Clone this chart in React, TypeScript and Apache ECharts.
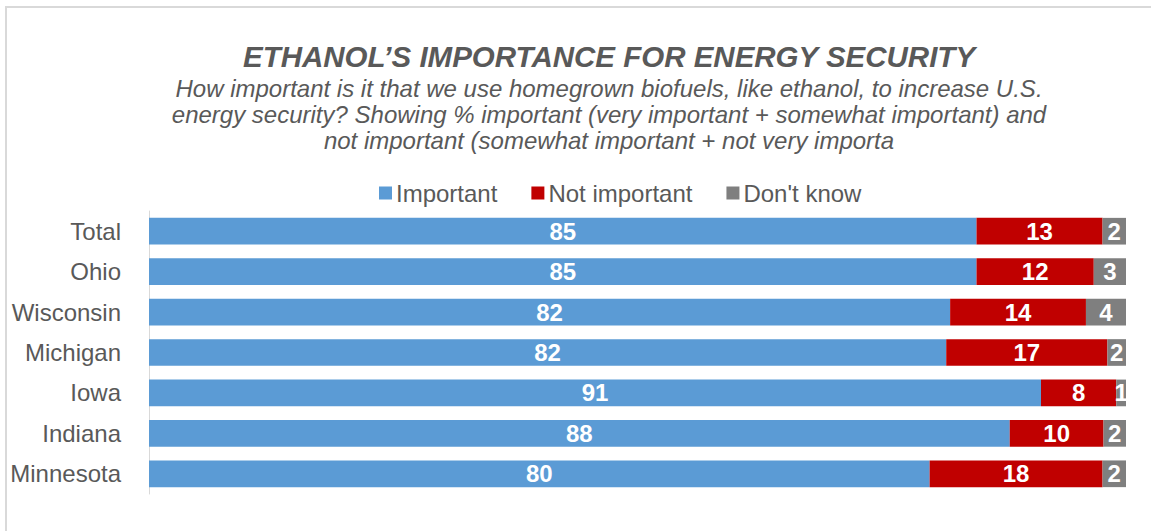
import React, { useEffect, useRef } from "react";
import * as echarts from "echarts";

const titleText = "ETHANOL\u2019S IMPORTANCE FOR ENERGY SECURITY";
const subtitleLines = [
  "How important is it that we use homegrown biofuels, like ethanol, to increase U.S.",
  "energy security? Showing % important (very important + somewhat important) and",
  "not important (somewhat important + not very importa",
];
const categories = ["Total", "Ohio", "Wisconsin", "Michigan", "Iowa", "Indiana", "Minnesota"];
const seriesNames = ["Important", "Not important", "Don't know"];
const important = [84.7, 84.7, 82.0, 81.6, 91.3, 88.1, 79.9];
const notImportant = [12.9, 12.0, 13.9, 16.5, 7.7, 9.6, 17.7];
const dontKnow = [2.4, 3.3, 4.1, 1.9, 1.0, 2.3, 2.4];
const colors = ["#5B9BD5", "#C00000", "#7F7F7F"];

const FONT = "Arial, 'Liberation Sans', sans-serif";

export default function App() {
  const ref = useRef<HTMLDivElement>(null);
  useEffect(() => {
    if (!ref.current) return;
    const chart = echarts.init(ref.current, null, { renderer: "svg" });
    const values = [important, notImportant, dontKnow];
    chart.setOption({
      animation: false,
      backgroundColor: "#ffffff",
      textStyle: { fontFamily: FONT },
      graphic: [
        {
          type: "rect",
          shape: { x: 6, y: 7, width: 1400, height: 700 },
          style: { fill: "none", stroke: "#D9D9D9", lineWidth: 2 },
          silent: true,
        },
      ],
      title: [
        {
          text: titleText,
          left: 604,
          top: 34,
          textAlign: "center",
          textStyle: {
            fontFamily: FONT,
            fontSize: 29.5,
            fontWeight: "bold",
            fontStyle: "italic",
            color: "#595959",
            lineHeight: 34,
          },
        },
        {
          text: subtitleLines.join("\n"),
          left: 604,
          top: 70,
          textAlign: "center",
          textStyle: {
            fontFamily: FONT,
            fontSize: 24,
            fontWeight: "normal",
            fontStyle: "italic",
            color: "#595959",
            lineHeight: 26,
          },
        },
      ],
      legend: {
        data: seriesNames,
        left: 379,
        top: 181,
        padding: 0,
        icon: "rect",
        itemWidth: 13,
        itemHeight: 13,
        itemGap: 34,
        textStyle: { fontFamily: FONT, fontSize: 24, color: "#595959", padding: [0, 0, 0, -1], lineHeight: 22 },
      },
      grid: { left: 149, right: 25, top: 211, bottom: 37 },
      xAxis: { type: "value", min: 0, max: 100, show: false },
      yAxis: {
        type: "category",
        data: categories,
        inverse: true,
        axisLine: { show: true, lineStyle: { color: "#D9D9D9", width: 1 } },
        axisTick: { show: false },
        axisLabel: { fontFamily: FONT, fontSize: 24, color: "#595959", margin: 28 },
        splitLine: { show: false },
      },
      series: seriesNames.map((name, i) => ({
        name,
        type: "bar",
        stack: "total",
        data: values[i],
        barCategoryGap: "34%",
        itemStyle: { color: colors[i] },
        label: {
          show: true,
          position: "inside",
          color: "#ffffff",
          fontFamily: FONT,
          fontSize: 24,
          fontWeight: "bold",
          formatter: (p: any) => String(Math.round(p.value)),
        },
      })),
    });
    return () => chart.dispose();
  }, []);
  return (
    <div
      ref={ref}
      style={{ position: "fixed", left: 0, top: 0, width: 1151, height: 531, background: "#fff" }}
    />
  );
}
